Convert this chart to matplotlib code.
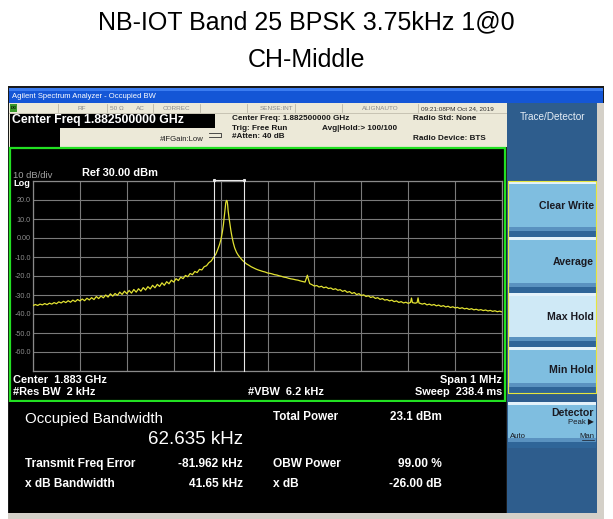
import matplotlib
matplotlib.use("Agg")
import matplotlib.pyplot as plt
from matplotlib.patches import Rectangle

plt.rcParams['font.family'] = ['Liberation Sans', 'DejaVu Sans']

# trace: offset from 1.883 GHz (kHz) and level (dBm)
freq_khz = [
    -500, -495, -490, -485, -480, -475, -470, -465, -460, -455,
    -450, -445, -440, -435, -430, -425, -420, -415, -410, -405,
    -400, -395, -390, -385, -380, -375, -370, -365, -360, -355,
    -350, -345, -340, -335, -330, -325, -320, -315, -310, -305,
    -300, -295, -290, -285, -280, -275, -270, -265, -260, -255,
    -250, -245, -240, -235, -230, -225, -220, -215, -210, -205,
    -200, -195, -190, -185, -180, -175, -170, -165, -160, -155,
    -150, -145, -140, -135, -130, -125, -120, -115, -110, -106,
    -102, -99, -96, -94, -92, -90, -89, -88, -87, -86,
    -85, -84, -82, -80, -78, -76, -73, -70, -66, -62,
    -58, -54, -50, -45, -40, -35, -30, -25, -20, -15,
    -10, -5, 0, 5, 10, 15, 20, 25, 30, 35,
    40, 45, 50, 55, 60, 65, 70, 75, 80, 83,
    85, 87, 90, 95, 100, 105, 110, 115, 120, 125,
    130, 135, 140, 145, 150, 155, 160, 165, 170, 175,
    180, 185, 190, 195, 200, 205, 210, 215, 220, 225,
    230, 235, 240, 245, 250, 255, 260, 265, 270, 275,
    280, 285, 290, 295, 300, 305, 307, 309, 315, 319,
    321, 323, 330, 335, 340, 345, 350, 355, 360, 365,
    370, 375, 380, 385, 390, 395, 400, 405, 410, 415,
    420, 425, 430, 435, 440, 445, 450, 455, 460, 465,
    470, 475, 480, 485, 490, 495, 500]
level_dbm = [
    -35.6, -35.0, -35.5, -34.8, -35.2, -34.5, -35.1, -34.3, -34.8, -34.0,
    -34.6, -33.6, -34.2, -33.3, -34.0, -33.0, -33.8, -32.7, -33.5, -32.4,
    -33.1, -32.1, -33.0, -31.7, -32.6, -31.4, -32.4, -30.8, -31.9, -30.5,
    -31.5, -30.0, -31.1, -29.4, -30.6, -29.2, -30.2, -28.5, -29.7, -28.0,
    -29.3, -27.6, -29.0, -27.1, -28.5, -26.7, -28.0, -26.1, -27.4, -25.6,
    -26.8, -24.9, -26.2, -24.4, -25.5, -23.6, -24.9, -23.0, -24.1, -22.2,
    -23.2, -21.4, -22.4, -20.6, -21.4, -19.7, -20.4, -18.7, -19.3, -17.6,
    -18.2, -16.5, -16.8, -15.1, -14.6, -13.0, -12.1, -10.3, -8.4, -6.0,
    -3.2, -0.5, 3.5, 7.0, 11.5, 16.0, 18.5, 19.5, 19.8, 19.3,
    17.5, 14.5, 10.5, 7.0, 3.8, 1.0, -2.5, -5.2, -7.6, -9.2,
    -10.4, -11.6, -12.5, -13.6, -14.3, -15.1, -15.7, -16.3, -16.8, -17.2,
    -17.6, -17.9, -18.4, -18.6, -18.9, -19.3, -19.5, -19.9, -20.2, -20.6,
    -20.8, -21.2, -21.5, -21.7, -22.0, -22.2, -22.6, -22.9, -23.2, -21.0,
    -19.6, -21.5, -24.0, -24.6, -25.3, -25.0, -25.8, -25.4, -26.2, -25.8,
    -26.6, -26.3, -27.1, -26.7, -27.5, -27.2, -28.1, -27.6, -28.6, -28.2,
    -29.2, -28.7, -29.8, -29.3, -30.3, -29.9, -30.8, -30.4, -31.3, -30.9,
    -31.8, -31.4, -32.3, -31.9, -32.7, -32.4, -33.1, -32.7, -33.5, -33.1,
    -33.9, -33.5, -34.2, -33.8, -34.4, -33.9, -31.6, -34.0, -34.3, -34.0,
    -31.5, -34.2, -34.8, -34.4, -35.2, -34.8, -35.4, -35.0, -35.7, -35.3,
    -36.0, -35.6, -36.3, -35.9, -36.6, -36.2, -36.8, -36.5, -37.1, -36.7,
    -37.3, -37.0, -37.6, -37.2, -37.8, -37.5, -38.0, -37.7, -38.2, -37.9,
    -38.4, -38.1, -38.6, -38.3, -38.8, -38.5, -38.9]

ref_level = 30
db_div = 10
span_khz = 1000
obw_khz = 62.635
freq_err_khz = -81.962
ytick_labels = ['', '20.0', '10.0', '0.00', '-10.0', '-20.0', '-30.0', '-40.0', '-50.0', '-60.0', '']

W, H = 613, 519
fig = plt.figure(figsize=(W / 100, H / 100), dpi=100)
fig.patch.set_facecolor('white')

# pixel-space layer for the analyser screen
ui = fig.add_axes([0, 0, 1, 1])
ui.set_xlim(0, W)
ui.set_ylim(H, 0)
ui.axis('off')


def box(x0, y0, x1, y1, fc, ec='none', lw=0, z=1):
    ui.add_patch(Rectangle((x0, y0), x1 - x0, y1 - y0, facecolor=fc,
                           edgecolor=ec, linewidth=lw, zorder=z))


def txt(x, y, s, size, color='white', ha='left', weight='normal', **kw):
    ui.text(x, y, s, fontsize=size, color=color, ha=ha, va='center',
            fontweight=weight, zorder=10, **kw)


fig.text(0.5, 1 - 22 / H, 'NB-IOT Band 25 BPSK 3.75kHz 1@0', ha='center', va='center', fontsize=18)
fig.text(0.5, 1 - 60 / H, 'CH-Middle', ha='center', va='center', fontsize=18)

# frame, title bar, status row
box(8, 86, 604, 514, '#1a1a1a')
box(9, 88, 603, 103, '#1456d6')
box(9, 88, 603, 91, '#3b7cf0')
txt(12, 96, 'Agilent Spectrum Analyzer - Occupied BW', 5.5)
box(9, 103, 507, 147, '#ece9d8')
box(9, 112.5, 507, 113.5, '#c8c4b4')
for xd in [58, 107, 153, 200, 247, 295, 342, 418]:
    ui.plot([xd, xd], [104, 112], color='#b0ac9c', lw=0.5, zorder=2)
box(10, 104, 17, 112, '#3a9a2a')
txt(10.5, 108, 'LXI', 2.6, color='black', weight='bold')
for xs, s in [(78, 'RF'), (110, '50 Ω'), (136, 'AC'), (163, 'CORREC'), (260, 'SENSE:INT'),
              (362, 'ALIGNAUTO'), (421, '09:21:08PM Oct 24, 2019')]:
    txt(xs, 108.5, s, 4.6, color='#8a8a8a' if xs < 400 else '#303030')

box(10, 113.5, 215, 128, 'black')
box(10, 128, 60, 147, 'black')
txt(12, 120.5, 'Center Freq 1.882500000 GHz', 8.8, weight='bold')
txt(160, 139.5, '#IFGain:Low', 5.6, color='#202020')
ui.plot([209, 221, 221, 209], [133, 133, 136.5, 136.5], color='#303030', lw=0.6, zorder=3)
for xs, ys, s in [(232, 119, 'Center Freq: 1.882500000 GHz'), (232, 128, 'Trig: Free Run'),
                  (232, 137, '#Atten: 40 dB'), (322, 128, 'Avg|Hold:> 100/100'),
                  (413, 119, 'Radio Std: None'), (413, 139, 'Radio Device: BTS')]:
    txt(xs, ys, s, 5.9, color='#181818', weight='bold')

# graph panel and measurement panel
box(10, 148, 505, 401, 'black', ec='#22e022', lw=1.6, z=2)
box(9, 402, 506, 513, 'black', z=2)
txt(13, 175, '10 dB/div', 6.8, color='#a0a0a0')
txt(13, 183.5, 'Log', 6.6, weight='bold')
txt(82, 173, 'Ref 30.00 dBm', 7.9, weight='bold')
txt(13, 380, 'Center  1.883 GHz', 7.9, weight='bold')
txt(13, 392, '#Res BW  2 kHz', 7.9, weight='bold')
txt(248, 392, '#VBW  6.2 kHz', 7.9, weight='bold')
txt(502, 380, 'Span 1 MHz', 7.9, ha='right', weight='bold')
txt(502, 392, 'Sweep  238.4 ms', 7.9, ha='right', weight='bold')

txt(25, 419, 'Occupied Bandwidth', 10.8)
txt(243, 440, '%.3f kHz' % obw_khz, 13.5, ha='right')
txt(273, 417, 'Total Power', 8.4, weight='bold')
txt(442, 417, '23.1 dBm', 8.4, ha='right', weight='bold')
txt(25, 464, 'Transmit Freq Error', 8.6, weight='bold')
txt(243, 464, '%.3f kHz' % freq_err_khz, 8.6, ha='right', weight='bold')
txt(273, 464, 'OBW Power', 8.6, weight='bold')
txt(442, 464, '99.00 %', 8.6, ha='right', weight='bold')
txt(25, 484, 'x dB Bandwidth', 8.6, weight='bold')
txt(243, 484, '41.65 kHz', 8.6, ha='right', weight='bold')
txt(273, 484, 'x dB', 8.6, weight='bold')
txt(442, 484, '-26.00 dB', 8.6, ha='right', weight='bold')

# right softkey panel
box(507, 103, 597, 513, '#2e5d8d')
box(597, 103, 604, 513, '#d4d0c8')
box(8, 513, 604, 519, '#d4d0c8')
txt(552, 117, 'Trace/Detector', 7.2, color='#e6eef6', ha='center')


def softkey(y0, y1, main):
    box(508, y0, 596, y1, main, z=3)
    box(508, y0, 596, y0 + 3, '#e4f2fa', z=3)
    box(508, y1 - 10, 596, y1 - 6, '#5a92c0', z=3)
    box(508, y1 - 6, 596, y1, '#2f6598', z=3)


keys = [(181, 237, 'Clear Write'), (237, 293, 'Average'), (293, 347, 'Max Hold'), (347, 393, 'Min Hold')]
for y0, y1, lab in keys:
    softkey(y0, y1, '#cfe9f6' if lab == 'Max Hold' else '#7fbee0')
    txt(594, (y0 + y1) / 2 - 3 if y1 - y0 > 50 else (y0 + y1) / 2, lab, 7.6,
        color='#1a1a22', ha='right', weight='bold')
ui.add_patch(Rectangle((508, 181), 88, 212, fill=False, edgecolor='#e6e63c', lw=0.8, zorder=4))
softkey(402, 448, '#7fbee0')
txt(594, 413, 'Detector', 7.6, color='#1a1a22', ha='right', weight='bold')
txt(594, 423, 'Peak ▶', 5.6, color='#1a1a22', ha='right')
txt(510, 436, 'Auto', 5.6, color='#1a1a22')
txt(594, 436, 'Man', 5.6, color='#1a1a22', ha='right')
ui.plot([582, 594], [440, 440], color='#1a1a22', lw=0.5, zorder=10)

# the trace graticule
ax = fig.add_axes([33 / W, 1 - 371 / H, 469 / W, 190 / H])
ax.set_facecolor('black')
ax.set_xlim(-span_khz / 2, span_khz / 2)
ax.set_ylim(ref_level - 10 * db_div, ref_level)
ax.set_xticks(range(-500, 501, 100))
ax.set_yticks(range(ref_level - 10 * db_div, ref_level + 1, db_div)[::-1])
ax.set_yticklabels(ytick_labels)
ax.tick_params(length=0, labelbottom=False, labelsize=5.2, labelcolor='#8c8c8c', pad=1.5)
ax.grid(True, color='#7a7a7a', lw=0.8)
for sp in ax.spines.values():
    sp.set_color('#8a8a8a')
    sp.set_linewidth(0.9)

ax.plot(freq_khz, level_dbm, color='#e2e232', lw=0.9, zorder=5)

lo = freq_err_khz - obw_khz / 2
hi = freq_err_khz + obw_khz / 2
ax.plot([lo, lo, hi, hi], [ref_level - 100, ref_level + 0.6, ref_level + 0.6, ref_level - 100],
        color='#e8e8e8', lw=0.8, clip_on=False, zorder=6)
ax.plot([lo, hi], [ref_level + 0.6, ref_level + 0.6], 's', color='#e8e8e8', ms=1.2, clip_on=False, zorder=7)

fig.savefig('out.png', dpi=100, facecolor='white')
